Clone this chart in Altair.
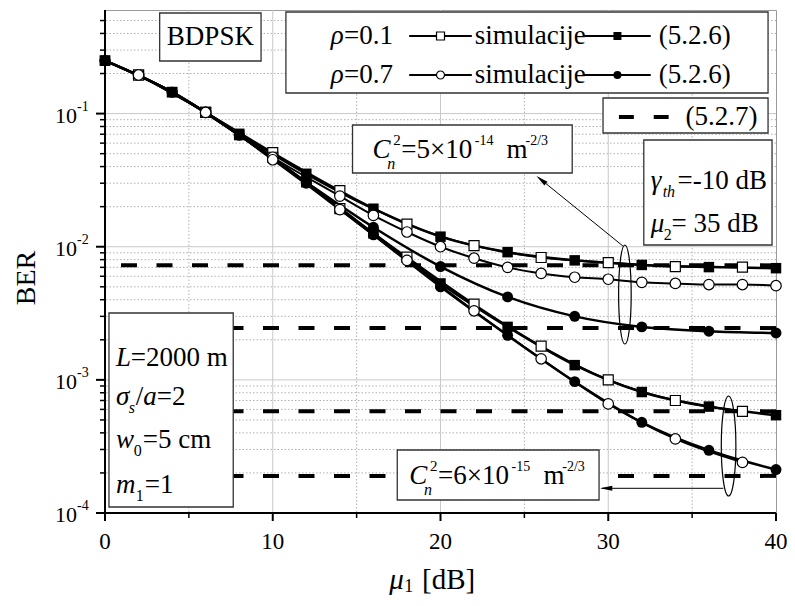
import altair as alt
import pandas as pd

FONT = "Liberation Serif, Times New Roman, serif"
W, H = 671, 503
SX = W / 675.0  # annotation x positions were measured on a 675 px wide plot

# ---------------- data ----------------
x_theory = [0, 4, 8, 12, 16, 20, 24, 28, 32, 36, 40]
th_r01_c1 = [0.25, 0.145, 0.0705, 0.0353, 0.0193, 0.0119, 0.0091, 0.0079, 0.0073, 0.00703, 0.0069]
th_r07_c1 = [0.25, 0.145, 0.069, 0.0305, 0.014, 0.0071, 0.0042, 0.0030, 0.0025, 0.00232, 0.00225]
th_r01_c2 = [0.25, 0.145, 0.069, 0.0305, 0.0126, 0.0053, 0.0025, 0.00129, 0.00081, 0.00063, 0.000543]
th_r07_c2 = [0.25, 0.145, 0.069, 0.0300, 0.0123, 0.0050, 0.00216, 0.00097, 0.00048, 0.000296, 0.000212]

x_sim = [2, 6, 10, 14, 18, 22, 26, 30, 34, 38]
sim_r01_c1 = [0.195, 0.102, 0.051, 0.0264, 0.0148, 0.0102, 0.0083, 0.0076, 0.0071, 0.00703]
sim_r01_c2 = [0.195, 0.102, 0.047, 0.0193, 0.00835, 0.0037, 0.00179, 0.0010, 0.0007, 0.00058]
sim_r07_c2 = [0.195, 0.102, 0.045, 0.0190, 0.0079, 0.0033, 0.00144, 0.00066, 0.00036, 0.00024]
x_sim_dense = [2, 6, 10, 14, 16, 18, 20, 22, 24, 26, 28, 30, 32, 34, 36, 38, 40]
sim_r07_c1 = [0.195, 0.102, 0.047, 0.024, 0.0172, 0.0129, 0.010, 0.0082, 0.0070, 0.0063,
              0.0059, 0.0057, 0.0054, 0.0053, 0.0052, 0.0052, 0.0051]

eq527_levels = [7.25e-3, 2.45e-3, 5.8e-4, 1.9e-4]

x_major = [0, 10, 20, 30, 40]
x_labels = ["0", "10", "20", "30", "40"]
x_minor = [5, 15, 25, 35]
y_major = [1e-4, 1e-3, 1e-2, 1e-1]
y_exp = ["-4", "-3", "-2", "-1"]
y_grid_major = [1e-3, 1e-2, 1e-1]
y_minor = [k * 10.0 ** d for d in (-4, -3, -2, -1) for k in range(2, 10) if k * 10.0 ** d < 0.6]


def frame(series, xs, ys):
    return pd.DataFrame({"series": series, "x": xs, "ber": ys})


df_th_sq = pd.concat([frame("t01c1", x_theory, th_r01_c1), frame("t01c2", x_theory, th_r01_c2)])
df_th_ci = pd.concat([frame("t07c1", x_theory, th_r07_c1), frame("t07c2", x_theory, th_r07_c2)])
df_sim_sq = pd.concat([frame("s01c1", x_sim, sim_r01_c1), frame("s01c2", x_sim, sim_r01_c2)])
df_sim_ci = pd.concat([frame("s07c1", x_sim_dense, sim_r07_c1), frame("s07c2", x_sim, sim_r07_c2)])
df_th = pd.concat([df_th_sq, df_th_ci])
df_sim = pd.concat([df_sim_sq, df_sim_ci])

one = pd.DataFrame({"a": [0]})

xs = alt.Scale(domain=[0, 40], nice=False, zero=False)
ys = alt.Scale(type="log", domain=[1e-4, 0.6], nice=False)


def Xe():
    return alt.X("x:Q", scale=xs, axis=None)


def Ye():
    return alt.Y("ber:Q", scale=ys, axis=None)


def sx(v):
    return v * SX


layers = []

# grid
layers.append(alt.Chart(pd.DataFrame({"x": [10, 20, 30]})).mark_rule(color="#c8c8c8", strokeWidth=1).encode(x=Xe()))
layers.append(alt.Chart(pd.DataFrame({"x": x_minor})).mark_rule(color="#b0b0b0", strokeWidth=1, strokeDash=[1.5, 2]).encode(x=Xe()))
layers.append(alt.Chart(pd.DataFrame({"ber": y_grid_major})).mark_rule(color="#c8c8c8", strokeWidth=1).encode(y=Ye()))
layers.append(alt.Chart(pd.DataFrame({"ber": y_minor})).mark_rule(color="#b0b0b0", strokeWidth=1, strokeDash=[1.5, 2]).encode(y=Ye()))

# axis ticks (drawn as rules)
layers.append(alt.Chart(pd.DataFrame({"ber": y_minor})).mark_rule(color="black", strokeWidth=1.5).encode(
    x=alt.value(-5), x2=alt.value(0), y=Ye()))
layers.append(alt.Chart(pd.DataFrame({"ber": y_major})).mark_rule(color="black", strokeWidth=2).encode(
    x=alt.value(-9), x2=alt.value(0), y=Ye()))
layers.append(alt.Chart(pd.DataFrame({"x": x_minor})).mark_rule(color="black", strokeWidth=1.5).encode(
    y=alt.value(H), y2=alt.value(H + 5), x=Xe()))
layers.append(alt.Chart(pd.DataFrame({"x": x_major})).mark_rule(color="black", strokeWidth=2).encode(
    y=alt.value(H), y2=alt.value(H + 8), x=Xe()))

# (5.2.7) dashed levels
layers.append(alt.Chart(pd.DataFrame({"ber": eq527_levels})).mark_rule(
    color="black", strokeWidth=4, strokeDash=[16, 19.5]).encode(y=Ye()))

# curves
layers.append(alt.Chart(df_th).mark_line(color="black", strokeWidth=2.5, interpolate="monotone").encode(
    x=Xe(), y=Ye(), detail="series:N"))
layers.append(alt.Chart(df_sim).mark_line(color="black", strokeWidth=2, interpolate="monotone").encode(
    x=Xe(), y=Ye(), detail="series:N"))
layers.append(alt.Chart(df_th_sq).mark_point(shape="square", filled=True, color="black", opacity=1, size=110).encode(x=Xe(), y=Ye()))
layers.append(alt.Chart(df_th_ci).mark_point(shape="circle", filled=True, color="black", opacity=1, size=120).encode(x=Xe(), y=Ye()))
layers.append(alt.Chart(df_sim_sq).mark_point(shape="square", filled=True, fill="white", stroke="black",
                                              strokeWidth=1.2, opacity=1, size=100).encode(x=Xe(), y=Ye()))
layers.append(alt.Chart(df_sim_ci).mark_point(shape="circle", filled=True, fill="white", stroke="black",
                                              strokeWidth=1.2, opacity=1, size=110).encode(x=Xe(), y=Ye()))

# domain lines
layers.append(alt.Chart(one).mark_rule(color="black", strokeWidth=2).encode(
    x=alt.value(0), y=alt.value(0), y2=alt.value(H + 1)))
layers.append(alt.Chart(one).mark_rule(color="black", strokeWidth=2).encode(
    x=alt.value(-1), x2=alt.value(W), y=alt.value(H)))


# ---------------- annotation helpers ----------------
def box(x1, y1, x2, y2):
    return alt.Chart(one).mark_rect(fill="white", stroke="#333333", strokeWidth=1.3).encode(
        x=alt.value(sx(x1)), x2=alt.value(sx(x2)), y=alt.value(y1), y2=alt.value(y2))


def txt(x, y, s, size=27, italic=False, align="left", angle=0, baseline="middle", scale=True):
    kw = dict(text=s, font=FONT, fontSize=size, fontStyle="italic" if italic else "normal",
              align=align, baseline=baseline, color="black")
    if angle:
        kw["angle"] = angle
    return alt.Chart(one).mark_text(**kw).encode(x=alt.value(sx(x) if scale else x), y=alt.value(y))


def hline(x1, x2, y, w=2):
    return alt.Chart(one).mark_rule(color="black", strokeWidth=w).encode(
        x=alt.value(sx(x1)), x2=alt.value(sx(x2)), y=alt.value(y))


def marker(x, y, shape, filled, size=64):
    if filled:
        m = alt.Chart(one).mark_point(shape=shape, filled=True, color="black", opacity=1, size=size)
    else:
        m = alt.Chart(one).mark_point(shape=shape, filled=True, fill="white", stroke="black",
                                      strokeWidth=1.2, opacity=1, size=size)
    return m.encode(x=alt.value(sx(x)), y=alt.value(y))


# BDPSK box
layers += [box(55, 3, 157, 51), txt(106, 27, "BDPSK", align="center")]

# legend box
layers.append(box(182, 2, 667, 83))
for ry, rho, shp in [(26, "=0.1", "square"), (65, "=0.7", "circle")]:
    layers += [
        txt(227, ry, "ρ", italic=True), txt(240.5, ry, rho),
        hline(306, 369, ry), marker(337.5, ry, shp, False),
        txt(372, ry, "simulacije"),
        hline(482, 549, ry), marker(515.5, ry, shp, True),
        txt(557, ry, "(5.2.6)"),
    ]

# (5.2.7) box
layers += [box(501, 88, 667, 123), hline(517, 532, 107, 4), hline(552, 567, 107, 4), txt(584, 107, "(5.2.7)")]


# Cn2 boxes
def cn2(bx1, by1, bx2, by2, x0, yc, mant, exp):
    return [
        box(bx1, by1, bx2, by2),
        txt(x0, yc, "C", italic=True),
        txt(x0 + 15, yc + 14, "n", size=16, italic=True),
        txt(x0 + 21, yc - 10, "2", size=15),
        txt(x0 + 29, yc, "=" + mant + "×10"),
        txt(x0 + 103, yc - 9, exp, size=14),
        txt(x0 + 135, yc, "m"),
        txt(x0 + 154, yc - 9, "-2/3", size=14),
    ]


layers += cn2(249, 115, 470, 163, 269, 140, "5", "-14")
layers += cn2(294, 440, 497, 490, 306, 466, "6", "-15")

# gamma / mu2 box
layers += [
    box(542, 130, 671, 235),
    txt(549, 171, "γ", italic=True), txt(561, 182, "th", size=16, italic=True), txt(576, 171, "=-10 dB"),
    txt(549, 214, "μ", italic=True), txt(562, 225, "2", size=16), txt(570, 214, "= 35 dB"),
]

# L box
layers += [
    box(4, 303, 129, 497),
    txt(11, 348, "L", italic=True), txt(26, 348, "=2000 m"),
    txt(11, 387, "σ", italic=True), txt(24, 398, "s", size=16, italic=True),
    txt(31, 387, "/"), txt(38.5, 387, "a", italic=True), txt(52, 387, "=2"),
    txt(11, 430, "w", italic=True), txt(29, 441, "0", size=16), txt(38, 430, "=5 cm"),
    txt(11, 475, "m", italic=True), txt(31, 486, "1", size=16), txt(40, 475, "=1"),
]


# ellipses
def ellipse_path(rx):
    k = 0.5523
    a = k * rx
    return (f"M 0 -1 C {a:.4f} -1 {rx:.4f} -{k} {rx:.4f} 0 "
            f"C {rx:.4f} {k} {a:.4f} 1 0 1 "
            f"C -{a:.4f} 1 -{rx:.4f} {k} -{rx:.4f} 0 "
            f"C -{rx:.4f} -{k} -{a:.4f} -1 0 -1 Z")


layers.append(alt.Chart(one).mark_point(shape=ellipse_path(0.127), filled=False, stroke="black",
                                        strokeWidth=1.2, opacity=1, size=99 * 99).encode(
    x=alt.value(sx(523)), y=alt.value(284.5)))
layers.append(alt.Chart(one).mark_point(shape=ellipse_path(0.146), filled=False, stroke="black",
                                        strokeWidth=1.2, opacity=1, size=100 * 100).encode(
    x=alt.value(sx(627.3)), y=alt.value(436)))

# arrows
arrow_head = "M 0 0 L 0.4 2 L -0.4 2 Z"
layers.append(alt.Chart(one).mark_rule(color="black", strokeWidth=1).encode(
    x=alt.value(sx(521)), y=alt.value(236), x2=alt.value(sx(436)), y2=alt.value(167.5)))
layers.append(alt.Chart(one).mark_point(shape=arrow_head, filled=True, color="black", opacity=1,
                                        size=150, angle=309).encode(x=alt.value(sx(434)), y=alt.value(166)))
layers.append(alt.Chart(one).mark_rule(color="black", strokeWidth=1).encode(
    x=alt.value(sx(622)), y=alt.value(478.3), x2=alt.value(sx(500)), y2=alt.value(478.3)))
layers.append(alt.Chart(one).mark_point(shape=arrow_head, filled=True, color="black", opacity=1,
                                        size=150, angle=270).encode(x=alt.value(sx(498)), y=alt.value(478.3)))

# tick labels
df_yt = pd.DataFrame({"ber": y_major, "exp": y_exp})
layers.append(alt.Chart(df_yt).mark_text(text="10", align="right", baseline="middle", dy=2, font=FONT,
                                         fontSize=22, color="black").encode(x=alt.value(-28), y=Ye()))
layers.append(alt.Chart(df_yt).mark_text(align="left", baseline="middle", dy=-7, font=FONT,
                                         fontSize=14, color="black").encode(x=alt.value(-28), y=Ye(), text="exp:N"))
df_xt = pd.DataFrame({"x": x_major, "lab": x_labels})
layers.append(alt.Chart(df_xt).mark_text(align="center", baseline="middle", font=FONT, fontSize=23,
                                         color="black").encode(x=Xe(), y=alt.value(H + 29), text="lab:N"))

# axis titles
layers.append(txt(-78, 268, "BER", size=28, align="center", angle=270, scale=False))
layers += [
    txt(286, 579, "μ", size=29, italic=True, baseline="alphabetic"),
    txt(301, 582, "1", size=18, baseline="alphabetic"),
    txt(319, 579, "[dB]", size=29, baseline="alphabetic"),
]

chart = alt.layer(*layers).properties(
    width=W, height=H,
    padding={"left": 97, "top": 2, "right": 11, "bottom": 85},
    autosize=alt.AutoSizeParams(type="none"),
).configure_view(stroke="#9a9a9a", strokeWidth=1)

chart.save("out.html", embed_options={"renderer": "svg", "actions": False})
